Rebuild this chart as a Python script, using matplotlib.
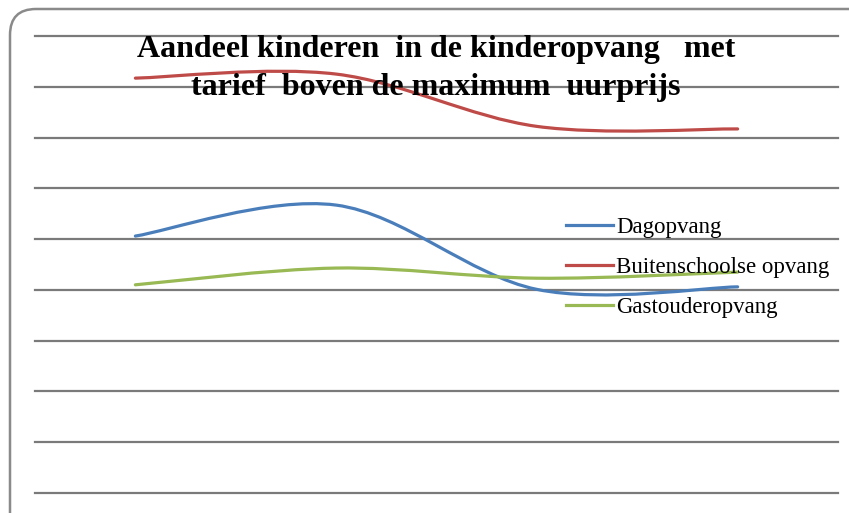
import matplotlib
matplotlib.use("Agg")
import matplotlib.pyplot as plt
from matplotlib.path import Path
from matplotlib.patches import PathPatch, FancyBboxPatch
from matplotlib.lines import Line2D

plt.rcParams['font.family'] = ['Liberation Serif', 'DejaVu Serif']

title_lines = ["Aandeel kinderen  in de kinderopvang   met", "tarief  boven de maximum  uurprijs"]
categories = ["1", "2", "3", "4"]
series_names = ["Dagopvang", "Buitenschoolse opvang", "Gastouderopvang"]
dagopvang = [5.06, 5.67, 4.01, 4.06]
buitenschoolse = [8.17, 8.25, 7.22, 7.17]
gastouder = [4.10, 4.43, 4.23, 4.35]
colors = ["#4A7EBB", "#BE4B48", "#98B954"]

fig = plt.figure(figsize=(8.49, 5.13), dpi=100)
W, H = 849, 513
ax = fig.add_axes([35 / W, (H - 493) / H, (838 - 35) / W, (493 - 36) / H])
ax.set_xlim(-0.5, len(categories) - 0.5)
ax.set_ylim(0, 9)
ax.set_yticks(range(0, 10))
ax.set_xticks([])
ax.tick_params(left=False, labelleft=False)
for s in ax.spines.values():
    s.set_visible(False)
ax.grid(axis='y', color='#7a7a7a', linewidth=1.6)
for gl in ax.get_ygridlines():
    gl.set_clip_on(False)
ax.set_axisbelow(True)


def smooth_path(xs, ys):
    pts = list(zip(xs, ys))
    n = len(pts)
    verts = [pts[0]]
    codes = [Path.MOVETO]
    for i in range(n - 1):
        p0 = pts[i - 1] if i > 0 else pts[i]
        p1 = pts[i]
        p2 = pts[i + 1]
        p3 = pts[i + 2] if i + 2 < n else pts[i + 1]
        c1 = (p1[0] + (p2[0] - p0[0]) / 6, p1[1] + (p2[1] - p0[1]) / 6)
        c2 = (p2[0] - (p3[0] - p1[0]) / 6, p2[1] - (p3[1] - p1[1]) / 6)
        verts += [c1, c2, p2]
        codes += [Path.CURVE4] * 3
    return Path(verts, codes)


xs = list(range(len(categories)))
handles = []
for name, vals, c in zip(series_names, [dagopvang, buitenschoolse, gastouder], colors):
    patch = PathPatch(smooth_path(xs, vals), facecolor='none', edgecolor=c,
                      linewidth=2.3, capstyle='round', transform=ax.transData, zorder=3)
    ax.add_patch(patch)
    handles.append(Line2D([], [], color=c, linewidth=2.3))

leg = fig.legend(handles, series_names, loc='upper left',
                 bbox_to_anchor=(566 / W, (H - 217) / H), frameon=False,
                 fontsize=16.5, handlelength=2.05, handletextpad=0.15,
                 labelspacing=0.82, borderaxespad=0, borderpad=0)

fig.text(436 / W, (H - 49) / H, title_lines[0], ha='center', va='center',
         fontsize=23, fontweight='bold', zorder=5)
fig.text(436 / W, (H - 87) / H, title_lines[1], ha='center', va='center',
         fontsize=23, fontweight='bold', zorder=5)

border = FancyBboxPatch((0.10, -0.4), 9.0, 5.04 + 0.4,
                        boxstyle="round,pad=0,rounding_size=0.26",
                        transform=fig.dpi_scale_trans, facecolor='none',
                        edgecolor='#8a8a8a', linewidth=1.8, clip_on=False)
fig.patches.append(border)

fig.savefig("out.png", dpi=100)
